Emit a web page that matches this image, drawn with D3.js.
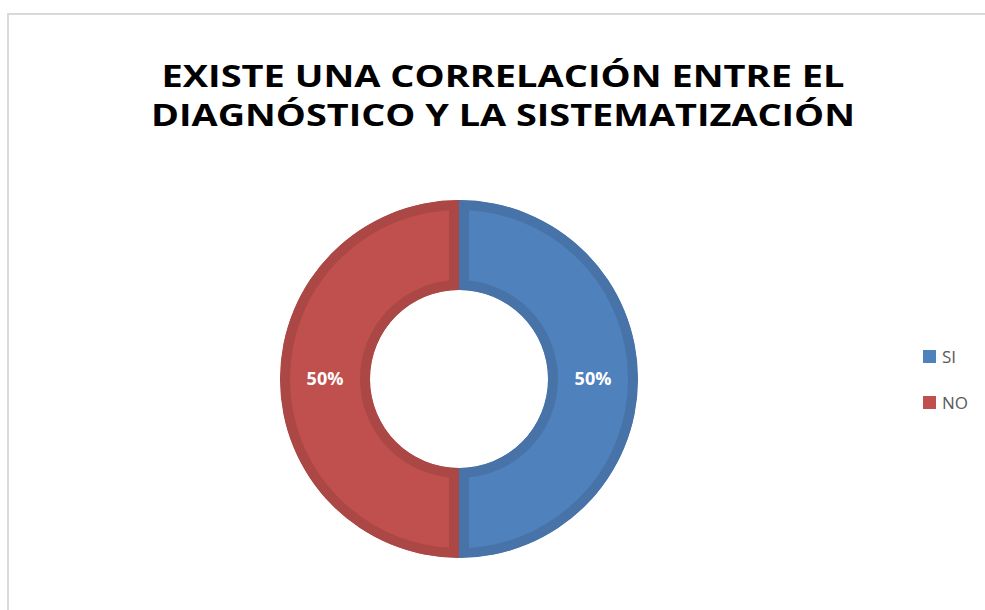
<!DOCTYPE html>
<html>
<head>
<meta charset="utf-8">
<script src="https://cdn.jsdelivr.net/npm/d3@7"></script>
<style>
  body { margin: 0; background: #ffffff; }
  svg { display: block; }
</style>
</head>
<body>
<script>
// datos del grafico
var categories = ['SI', 'NO'];
var values = [50, 50];
var colors = ['#4F81BD', '#C0504D'];
var strokes = ['#4773A8', '#AB4744'];
var titleLines = ['EXISTE UNA CORRELACIÓN ENTRE EL', 'DIAGNÓSTICO Y LA SISTEMATIZACIÓN'];

var width = 985;
var height = 610;

var svg = d3.select('body').append('svg')
    .attr('width', width)
    .attr('height', height);

// marco del grafico
svg.append('path')
    .attr('d', 'M8,' + (height + 5) + 'V14H' + (width + 5))
    .attr('fill', 'none')
    .attr('stroke', '#d9d9d9')
    .attr('stroke-width', 2);

// titulo
var titleWidths = [683, 704];
var titleBase = [87, 126];
svg.selectAll('.title')
    .data(titleLines)
    .enter().append('text')
        .attr('class', 'title')
        .attr('x', function(d, i) { return 503 - titleWidths[i] / 2; })
        .attr('y', function(d, i) { return titleBase[i]; })
        .attr('textLength', function(d, i) { return titleWidths[i]; })
        .attr('lengthAdjust', 'spacingAndGlyphs')
        .attr('font-family', '"Open Sans", "Liberation Sans", sans-serif')
        .attr('font-weight', 'bold')
        .attr('font-size', 31)
        .attr('fill', '#000000')
        .text(function(d) { return d; });

// dona
var cx = 459, cy = 379;
var outerR = 179, innerR = 89;

var pie = d3.pie().sort(null).value(function(d) { return d; });
var arc = d3.arc().innerRadius(innerR).outerRadius(outerR);
var labelArc = d3.arc().innerRadius((innerR + outerR) / 2).outerRadius((innerR + outerR) / 2);

var g = svg.append('g').attr('transform', 'translate(' + cx + ',' + cy + ')');
var arcs = pie(values);

// el borde va por dentro de cada porcion
var defs = svg.append('defs');
defs.selectAll('clipPath')
    .data(arcs)
    .enter().append('clipPath')
        .attr('id', function(d, i) { return 'clip' + i; })
        .append('path')
            .attr('d', arc);

g.selectAll('.slice')
    .data(arcs)
    .enter().append('path')
        .attr('class', 'slice')
        .attr('d', arc)
        .attr('clip-path', function(d, i) { return 'url(#clip' + i + ')'; })
        .attr('fill', function(d, i) { return colors[i]; })
        .attr('stroke', function(d, i) { return strokes[i]; })
        .attr('stroke-width', 20)
        .attr('stroke-linejoin', 'miter');

var total = d3.sum(values);
g.selectAll('.label')
    .data(arcs)
    .enter().append('text')
        .attr('class', 'label')
        .attr('transform', function(d) { return 'translate(' + labelArc.centroid(d) + ')'; })
        .attr('text-anchor', 'middle')
        .attr('dy', '0.36em')
        .attr('font-family', '"Open Sans", "Liberation Sans", sans-serif')
        .attr('font-weight', 'bold')
        .attr('font-size', 18)
        .attr('fill', '#ffffff')
        .text(function(d) { return Math.round(d.value / total * 100) + '%'; });

// leyenda
var legend = svg.selectAll('.legend')
    .data(categories)
    .enter().append('g')
        .attr('class', 'legend')
        .attr('transform', function(d, i) { return 'translate(923,' + (350 + i * 46) + ')'; });

legend.append('rect')
    .attr('width', 13)
    .attr('height', 13)
    .attr('fill', function(d, i) { return colors[i]; });

legend.append('text')
    .attr('x', 19)
    .attr('y', 13)
    .attr('font-family', '"Open Sans", "Liberation Sans", sans-serif')
    .attr('font-size', 17)
    .attr('fill', '#595959')
    .text(function(d) { return d; });
</script>
</body>
</html>
